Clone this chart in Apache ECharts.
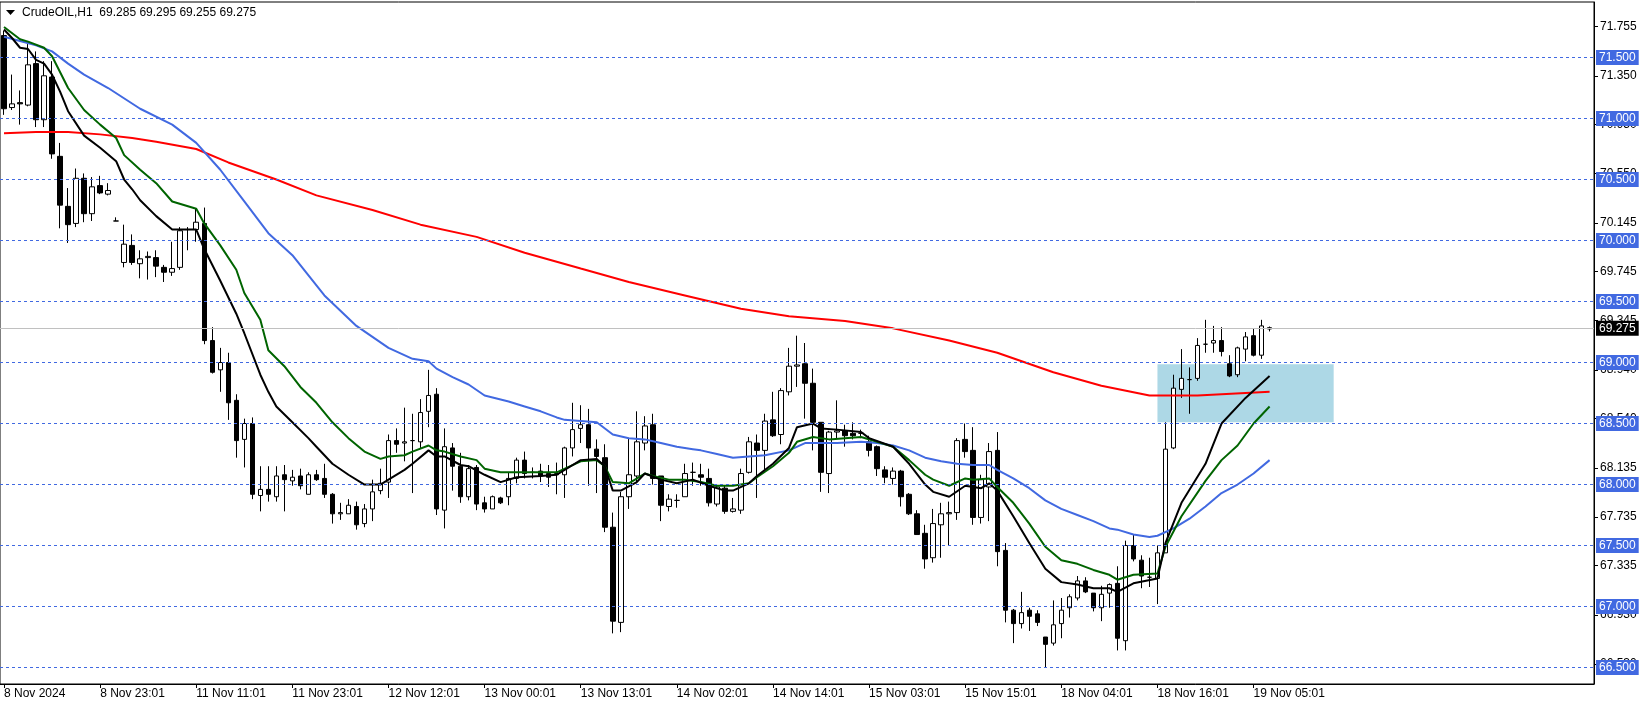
<!DOCTYPE html>
<html><head><meta charset="utf-8">
<script src="https://cdn.jsdelivr.net/npm/echarts@6/dist/echarts.min.js"></script>
<style>html,body{margin:0;padding:0;background:#fff}#c{width:1651px;height:706px}</style>
</head><body><div id="c"></div>
<script>
const opens=[71.68,71.09,71.13,71.11,71.45,70.99,71.34,70.69,70.28,70.14,
 70.51,70.22,70.45,70.38,70.16,69.82,69.96,69.81,69.86,69.86,
 69.78,69.74,69.78,70.09,70.09,70.14,69.18,68.94,69.00,68.69,
 68.37,68.50,67.91,67.96,67.90,68.08,68.03,68.07,67.92,68.08,
 68.05,67.92,67.76,67.76,67.82,67.68,67.80,67.95,68.02,68.36,
 68.34,68.36,68.35,68.60,68.74,67.79,68.30,68.15,67.90,68.14,
 67.85,67.80,67.89,67.90,68.05,68.20,68.10,68.11,68.09,68.08,
 68.08,68.30,68.46,68.49,68.29,68.22,67.65,66.87,67.90,68.07,
 68.34,68.49,68.07,67.82,67.87,67.90,68.10,68.08,68.05,67.84,
 67.97,67.78,67.79,68.10,68.34,68.28,68.53,68.41,68.76,68.97,
 68.99,68.83,68.51,68.09,68.43,68.44,68.42,68.42,68.35,68.31,
 68.12,68.05,68.11,67.92,67.76,67.60,67.40,67.67,67.76,67.77,
 68.37,68.28,67.73,67.98,68.28,67.46,66.97,66.86,66.97,66.94,
 66.75,66.70,66.86,66.99,67.07,67.21,67.11,66.99,67.11,67.19,
 66.72,67.50,67.38,67.24,67.23,67.44,68.30,68.78,68.86,68.87,
 69.15,69.16,69.18,68.99,68.90,69.11,69.22,69.06,69.285];
const highs=[71.72,71.36,71.23,71.61,71.55,71.47,71.47,70.80,70.43,70.59,
 70.55,70.52,70.53,70.47,70.19,70.13,70.05,69.92,69.91,69.92,
 69.80,69.99,70.11,70.11,70.26,70.27,69.29,69.12,69.08,68.74,
 68.54,68.55,68.15,68.15,68.15,68.16,68.12,68.13,68.10,68.12,
 68.17,67.93,67.85,67.88,67.86,67.84,68.04,68.13,68.41,68.46,
 68.63,68.58,68.70,68.94,68.79,68.46,68.34,68.26,68.16,68.16,
 67.90,67.91,67.90,68.10,68.22,68.27,68.14,68.17,68.16,68.18,
 68.31,68.67,68.65,68.62,68.37,68.33,67.77,67.94,68.38,68.60,
 68.56,68.58,68.07,67.92,67.92,68.17,68.18,68.17,68.13,67.99,
 67.99,67.89,68.13,68.39,68.41,68.58,68.76,68.79,69.12,69.22,
 69.16,68.95,68.51,68.44,68.69,68.49,68.51,68.45,68.40,68.32,
 68.15,68.14,68.12,67.93,67.79,67.67,67.80,67.85,67.86,68.38,
 68.50,68.47,68.08,68.34,68.43,67.52,66.98,67.12,66.99,66.97,
 66.75,67.05,67.07,67.10,67.25,67.24,67.11,67.17,67.19,67.33,
 67.54,67.59,67.42,67.40,67.50,68.51,68.90,69.11,68.96,69.20,
 69.35,69.30,69.29,69.06,69.13,69.25,69.28,69.35,69.295];
const lows=[71.03,71.07,70.95,71.10,70.93,70.93,70.67,70.10,69.98,70.11,
 70.15,70.16,70.38,70.37,70.16,69.78,69.80,69.69,69.68,69.70,
 69.66,69.71,69.76,69.92,69.99,69.15,68.91,68.76,68.53,68.22,
 68.14,67.88,67.78,67.86,67.86,67.78,67.99,67.96,67.92,68.03,
 67.89,67.68,67.71,67.76,67.63,67.65,67.70,67.92,67.89,68.26,
 68.19,67.93,68.30,68.47,67.75,67.64,67.95,67.85,67.87,67.79,
 67.77,67.80,67.84,67.83,68.01,68.05,68.05,68.02,67.98,67.92,
 67.89,68.23,68.34,67.99,67.93,67.61,66.78,66.79,67.80,68.01,
 68.28,68.00,67.70,67.78,67.81,67.90,67.99,67.99,67.82,67.82,
 67.76,67.77,67.76,68.09,67.89,68.12,68.39,68.33,68.73,68.80,
 68.54,68.28,67.94,67.93,68.38,68.31,68.37,68.38,68.23,68.07,
 68.01,68.00,67.82,67.75,67.59,67.31,67.36,67.40,67.50,67.71,
 68.22,67.67,67.68,67.70,67.33,66.87,66.70,66.82,66.80,66.84,
 66.50,66.68,66.74,66.91,67.05,67.11,66.96,66.88,66.99,66.64,
 66.64,67.37,67.15,67.16,67.02,67.44,68.29,68.71,68.58,68.85,
 69.08,69.08,69.05,68.88,68.88,69.01,69.05,69.03,69.255];
const closes=[71.08,71.12,71.12,71.44,70.99,71.35,70.71,70.29,70.13,70.51,
 70.22,70.44,70.39,70.41,70.16,69.97,69.82,69.85,69.87,69.79,
 69.74,69.77,70.08,70.09,70.15,69.18,68.92,69.00,68.67,68.36,
 68.50,67.92,67.96,67.92,68.07,68.04,68.06,67.99,68.08,68.04,
 67.92,67.76,67.77,67.83,67.67,67.80,67.94,68.01,68.36,68.33,
 68.35,68.36,68.59,68.73,67.80,68.31,68.15,67.90,68.13,67.84,
 67.80,67.90,67.85,68.05,68.20,68.09,68.10,68.07,68.06,68.09,
 68.30,68.45,68.49,68.30,68.23,67.65,66.88,67.90,68.08,68.35,
 68.48,68.05,67.83,67.88,67.87,68.09,68.10,68.06,67.85,67.98,
 67.78,67.80,68.09,68.35,68.28,68.52,68.40,68.77,68.97,68.98,
 68.83,68.51,68.10,68.43,68.44,68.40,68.40,68.42,68.28,68.13,
 68.06,68.11,67.90,67.76,67.59,67.39,67.68,67.76,67.77,68.36,
 68.27,67.73,68.04,68.27,67.45,66.97,66.86,66.95,66.92,66.87,
 66.69,66.85,66.97,67.08,67.21,67.12,66.99,67.10,67.18,66.74,
 67.50,67.39,67.25,67.24,67.44,68.29,68.79,68.87,68.86,69.14,
 69.15,69.18,69.09,68.89,69.12,69.21,69.06,69.30,69.275];

const tickLabels=['8 Nov 2024','8 Nov 23:01','11 Nov 11:01','11 Nov 23:01','12 Nov 12:01','13 Nov 00:01','13 Nov 13:01','14 Nov 02:01','14 Nov 14:01','15 Nov 03:01','15 Nov 15:01','18 Nov 04:01','18 Nov 16:01','19 Nov 05:01'];
const priceLabels=[71.755,71.350,70.950,70.550,70.145,69.745,69.345,68.940,68.540,68.135,67.735,67.335,66.930,66.530];
const levelLines=[71.5,71.0,70.5,70.0,69.5,69.0,68.5,68.0,67.5,67.0,66.5];
const lastPrice=69.275;
const zoneStart=144, zoneEnd=166, zoneTop=68.985, zoneBottom=68.51;

const maBlack=[[0,71.73],[1,71.66],[2,71.58],[3,71.57],[4,71.48],[5,71.45],[6,71.36],[7,71.22],[8,71.06],[10,70.86],[12,70.76],[14,70.65],[15,70.50],[16,70.42],[17,70.33],[19,70.20],[21,70.09],[24,70.09],[25,69.93],[27,69.67],[29,69.40],[30,69.24],[32,68.90],[33,68.76],[34,68.64],[36,68.51],[38,68.38],[39,68.31],[41,68.17],[43,68.08],[45,68.00],[47,68.00],[48,68.04],[50,68.12],[51,68.17],[53,68.28],[54,68.23],[55,68.23],[57,68.16],[58,68.15],[60,68.08],[62,68.02],[64,68.06],[67,68.07],[69,68.08],[72,68.20],[74,68.21],[75,68.15],[76,67.95],[77,67.95],[79,68.02],[80,68.09],[82,68.04],[84,68.01],[86,68.04],[88,67.99],[90,67.95],[91,67.95],[93,68.01],[94,68.07],[96,68.17],[98,68.30],[99,68.47],[101,68.50],[102,68.46],[104,68.45],[107,68.43],[108,68.38],[111,68.31],[113,68.17],[115,68.00],[116,67.94],[118,67.90],[120,67.99],[121,67.98],[122,67.97],[123,68.01],[124,67.95],[126,67.74],[128,67.52],[130,67.31],[132,67.20],[134,67.18],[136,67.15],[138,67.15],[139,67.12],[141,67.19],[144,67.23],[145,67.52],[147,67.85],[150,68.17],[152,68.50],[155,68.71],[158,68.89]];
const maGreen=[[0,71.75],[2,71.65],[3,71.63],[5,71.58],[6,71.51],[8,71.25],[10,71.07],[12,70.95],[14,70.84],[15,70.70],[17,70.58],[19,70.47],[21,70.32],[24,70.26],[25,70.14],[27,69.96],[29,69.76],[30,69.57],[32,69.35],[33,69.10],[35,68.97],[37,68.80],[39,68.67],[41,68.51],[43,68.38],[45,68.27],[47,68.21],[48,68.23],[50,68.24],[51,68.27],[53,68.32],[54,68.28],[55,68.27],[57,68.23],[59,68.20],[60,68.13],[62,68.10],[64,68.10],[66,68.10],[69,68.10],[72,68.19],[74,68.20],[75,68.15],[76,68.02],[78,68.01],[80,68.09],[81,68.07],[83,68.04],[85,68.04],[87,68.02],[89,67.99],[91,67.99],[93,68.01],[94,68.06],[96,68.15],[98,68.26],[99,68.35],[101,68.39],[103,68.37],[105,68.38],[107,68.39],[109,68.35],[111,68.31],[113,68.20],[115,68.08],[116,68.04],[118,67.99],[120,68.05],[121,68.04],[123,68.05],[124,67.98],[126,67.85],[128,67.68],[130,67.49],[132,67.38],[134,67.35],[136,67.30],[138,67.26],[139,67.22],[141,67.26],[144,67.27],[145,67.49],[147,67.74],[150,68.03],[152,68.20],[154,68.32],[156,68.50],[158,68.64]];
const maBlue=[[0,71.67],[4,71.60],[6,71.55],[8,71.45],[10,71.36],[13,71.25],[17,71.08],[21,70.95],[24,70.80],[27,70.58],[30,70.32],[33,70.06],[36,69.88],[40,69.55],[44,69.30],[48,69.12],[51,69.03],[53,69.01],[54,68.95],[56,68.88],[58,68.82],[60,68.73],[63,68.68],[65,68.64],[67,68.60],[69,68.55],[70,68.53],[72,68.52],[74,68.51],[76,68.41],[78,68.38],[80,68.37],[82,68.34],[84,68.31],[86,68.29],[87,68.28],[89,68.25],[91,68.22],[93,68.23],[95,68.24],[98,68.28],[100,68.34],[102,68.34],[104,68.34],[107,68.35],[109,68.34],[111,68.32],[113,68.28],[115,68.22],[117,68.19],[119,68.17],[121,68.16],[123,68.16],[124,68.12],[126,68.05],[128,67.97],[130,67.87],[132,67.80],[134,67.75],[136,67.70],[138,67.64],[139,67.63],[141,67.59],[143,67.57],[144,67.58],[146,67.64],[148,67.72],[150,67.82],[152,67.93],[154,68.00],[156,68.09],[158,68.20]];
const maRed=[[0,70.88],[4,70.89],[8,70.89],[12,70.87],[16,70.84],[19,70.81],[24,70.75],[28,70.64],[34,70.50],[39,70.37],[46,70.25],[52,70.13],[59,70.03],[65,69.90],[72,69.77],[78,69.66],[85,69.55],[92,69.44],[98,69.38],[105,69.34],[111,69.28],[118,69.18],[124,69.08],[131,68.92],[137,68.81],[143,68.73],[149,68.73],[158,68.76]];

const N=199;
const cats=Array.from({length:N},(_,i)=>String(i));
const candles=opens.map((o,i)=>[o,closes[i],lows[i],highs[i]]);
const FONT='Liberation Sans';
const isTick=i=>i%12===0 && i/12<tickLabels.length;

const chart=echarts.init(document.getElementById('c'),null,{renderer:'canvas'});
const maLine=(data,color)=>({type:'line',data:data,symbol:'none',showSymbol:false,silent:true,z:4,
  lineStyle:{color:color,width:2},itemStyle:{color:color}});
chart.setOption({
  animation:false,
  backgroundColor:'#fff',
  grid:{left:0,right:57,top:2,bottom:22,show:true,borderColor:'#000',borderWidth:1,backgroundColor:'transparent'},
  xAxis:{type:'category',data:cats,boundaryGap:true,
    axisLine:{show:true,lineStyle:{color:'#000',width:1}},
    axisTick:{show:true,alignWithLabel:true,interval:(i)=>isTick(i),length:4,lineStyle:{color:'#000'}},
    axisLabel:{interval:(i)=>isTick(i),formatter:(v,i)=>tickLabels[Math.round(i/12)],align:'left',margin:4,
      color:'#000',fontFamily:FONT,fontSize:12},
    splitLine:{show:false}},
  yAxis:{type:'value',position:'right',min:66.365,max:71.955,
    axisLine:{show:true,lineStyle:{color:'#000'}},
    axisTick:{show:true,customValues:priceLabels,length:4,lineStyle:{color:'#000'}},
    axisLabel:{customValues:priceLabels,formatter:v=>Number(v).toFixed(3),margin:6,color:'#000',fontFamily:FONT,fontSize:12},
    splitLine:{show:false}},
  graphic:[
    {type:'polygon',shape:{points:[[6,10],[15,10],[10.5,15]]},style:{fill:'#000'},z:100},
    {type:'text',x:22,y:13,style:{text:'CrudeOIL,H1  69.285 69.295 69.255 69.275',font:'12px "Liberation Sans"',fill:'#000',verticalAlign:'middle'},z:100}
  ],
  series:[
    {type:'candlestick',data:candles,barWidth:5,z:3,silent:true,
      itemStyle:{color:'#fff',color0:'#000',borderColor:'#000',borderColor0:'#000',borderColorDoji:'#000',borderWidth:1},
      markArea:{silent:true,itemStyle:{color:'#ADD8E6'},
        data:[[{xAxis:cats[zoneStart],yAxis:zoneTop},{xAxis:cats[zoneEnd],yAxis:zoneBottom}]]},
      markLine:{silent:true,symbol:'none',animation:false,
        lineStyle:{color:'#4169E1',type:[3,3],width:1},
        label:{position:'end',distance:2,formatter:'{b}',backgroundColor:'#4169E1',color:'#fff',
          padding:[2,3,1,3],fontFamily:FONT,fontSize:12},
        data:levelLines.map(v=>({yAxis:v,name:v.toFixed(3)})).concat([{yAxis:lastPrice,name:lastPrice.toFixed(3),
          lineStyle:{color:'#C0C0C0',type:'solid',width:1},
          label:{backgroundColor:'#000',color:'#fff'}}])}
    },
    maLine(maRed,'#FF0000'),
    maLine(maBlue,'#4169E1'),
    maLine(maGreen,'#006400'),
    maLine(maBlack,'#000000')
  ]
});
</script></body></html>
